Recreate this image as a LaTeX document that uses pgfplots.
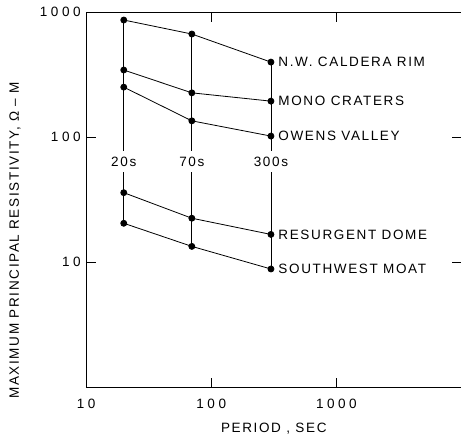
\documentclass[border=0pt]{standalone}
\usepackage{fontspec}
\setmainfont{Liberation Sans}[LetterSpace=12]
\newfontfamily\numfont{Liberation Sans}[LetterSpace=26]
\usepackage{pgfplots}
\pgfplotsset{compat=1.18}

\begin{document}
\begin{tikzpicture}
\begin{axis}[
    name=main,
    scale only axis,
    width=375pt, height=375pt,
    xmode=log, ymode=log,
    xmin=10, xmax=10000, ymin=1, ymax=1000,
    xtick={10,100,1000}, xticklabels={10,100,1000},
    ytick={10,100,1000}, yticklabels={10,100,1000},
    xminorticks=false, yminorticks=false,
    major tick length=0pt,
    axis line style={line width=0.8pt},
    font=\fontsize{13.5}{15}\selectfont,
    /pgf/number format/assume math mode=true,
    ticklabel style={font=\fontsize{13.5}{15}\numfont},
    xticklabel style={yshift=-8pt},
    yticklabel style={xshift=-2pt},
    xlabel={PERIOD , SEC},
    ylabel={MAXIMUM PRINCIPAL RESISTIVITY, Ω – M},
    xlabel style={at={(axis description cs:0.5,-0.109)}, anchor=center},
    ylabel style={at={(axis description cs:-0.189,0.392)}, anchor=center},
    every axis plot/.append style={black, line width=0.8pt},
    clip=false,
]
% short inward tick strokes (10pt ~ factor 1.2 on this log scale)
\addplot[no marks, forget plot] coordinates {(100,1) (100,1.2)};
\addplot[no marks, forget plot] coordinates {(1000,1) (1000,1.2)};
\addplot[no marks, forget plot] coordinates {(100,1000) (100,832)};
\addplot[no marks, forget plot] coordinates {(1000,1000) (1000,832)};
\addplot[no marks, forget plot] coordinates {(10,10) (12,10)};
\addplot[no marks, forget plot] coordinates {(10,100) (12,100)};
\addplot[no marks, forget plot] coordinates {(10000,10) (8320,10)};
\addplot[no marks, forget plot] coordinates {(10000,100) (8320,100)};

% vertical period lines
\addplot[no marks, line width=0.7pt] coordinates {(20,863) (20,20.5)};
\addplot[no marks, line width=0.7pt] coordinates {(70,667) (70,13.4)};
\addplot[no marks, line width=0.7pt] coordinates {(300,398) (300,8.84)};
\node[fill=white, inner xsep=1pt, inner ysep=6pt] at (axis cs:20,64) {20s};
\node[fill=white, inner xsep=1pt, inner ysep=6pt] at (axis cs:70,64) {70s};
\node[fill=white, inner xsep=1pt, inner ysep=6pt] at (axis cs:300,64) {300s};

% stations
\addplot[mark=*, mark size=3pt] coordinates {(20,863) (70,667) (300,398)};
\addplot[mark=*, mark size=3pt] coordinates {(20,344) (70,226) (300,194)};
\addplot[mark=*, mark size=3pt] coordinates {(20,251) (70,135) (300,102)};
\addplot[mark=*, mark size=3pt] coordinates {(20,36) (70,22.5) (300,16.7)};
\addplot[mark=*, mark size=3pt] coordinates {(20,20.5) (70,13.4) (300,8.84)};

\node[anchor=west, xshift=4pt] at (axis cs:300,398) {N.W. CALDERA RIM};
\node[anchor=west, xshift=4pt] at (axis cs:300,194) {MONO CRATERS};
\node[anchor=west, xshift=4pt] at (axis cs:300,102) {OWENS VALLEY};
\node[anchor=west, xshift=4pt] at (axis cs:300,16.7) {RESURGENT DOME};
\node[anchor=west, xshift=4pt] at (axis cs:300,8.84) {SOUTHWEST MOAT};
\end{axis}
\pgfresetboundingbox
\path[use as bounding box] ([xshift=-86pt, yshift=-57pt]main.south west)
    rectangle ([xshift=-0.5pt, yshift=12pt]main.north east);
\end{tikzpicture}
\end{document}
